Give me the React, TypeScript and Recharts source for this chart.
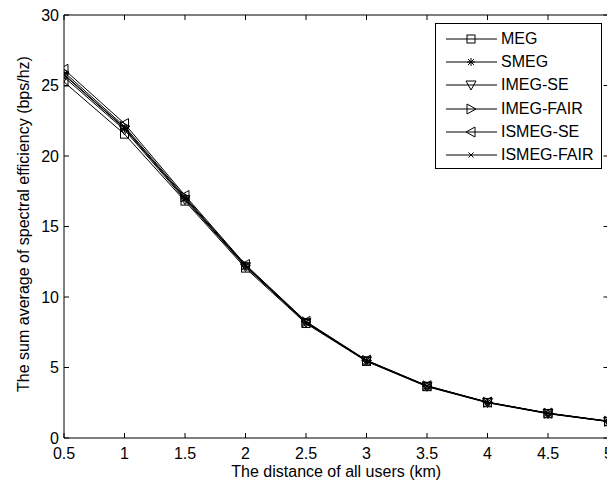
import React from 'react';
import { LineChart, Line, XAxis, YAxis, Legend } from 'recharts';

const distance = [0.5, 1, 1.5, 2, 2.5, 3, 3.5, 4, 4.5, 5];
const megValues = [25.25, 21.55, 16.8, 12.05, 8.12, 5.43, 3.64, 2.5, 1.72, 1.16];
const smegValues = [25.75, 21.95, 17.0, 12.2, 8.2, 5.48, 3.68, 2.53, 1.75, 1.18];
const imegSeValues = [25.6, 21.85, 16.9, 12.15, 8.18, 5.47, 3.67, 2.52, 1.74, 1.17];
const imegFairValues = [25.95, 22.1, 17.1, 12.25, 8.24, 5.5, 3.7, 2.54, 1.76, 1.19];
const ismegSeValues = [26.15, 22.3, 17.2, 12.3, 8.27, 5.52, 3.71, 2.55, 1.77, 1.2];
const ismegFairValues = [25.8, 22.0, 17.0, 12.2, 8.2, 5.48, 3.68, 2.53, 1.75, 1.18];

const xTicks = [0.5, 1, 1.5, 2, 2.5, 3, 3.5, 4, 4.5, 5];
const yTicks = [0, 5, 10, 15, 20, 25, 30];

const seriesNames = ['MEG', 'SMEG', 'IMEG-SE', 'IMEG-FAIR', 'ISMEG-SE', 'ISMEG-FAIR'];
const seriesKeys = ['meg', 'smeg', 'imegSe', 'imegFair', 'ismegSe', 'ismegFair'];
const seriesMarkers = ['square', 'star', 'tdown', 'tright', 'tleft', 'x'];
const seriesValues = [megValues, smegValues, imegSeValues, imegFairValues, ismegSeValues, ismegFairValues];

const data = distance.map((d, i) => {
  const row: Record<string, number> = { d };
  seriesKeys.forEach((k, j) => {
    row[k] = seriesValues[j][i];
  });
  return row;
});

const FONT = '"Liberation Sans", Arial, Helvetica, sans-serif';

function Marker({ kind, cx, cy }: { kind: string; cx: number; cy: number }) {
  const s = { fill: 'none', stroke: '#000', strokeWidth: 1 };
  switch (kind) {
    case 'square':
      return <rect x={cx - 4} y={cy - 4} width={8} height={8} {...s} />;
    case 'star':
      return (
        <g {...s}>
          <line x1={cx - 4} y1={cy} x2={cx + 4} y2={cy} />
          <line x1={cx} y1={cy - 4} x2={cx} y2={cy + 4} />
          <line x1={cx - 3} y1={cy - 3} x2={cx + 3} y2={cy + 3} />
          <line x1={cx - 3} y1={cy + 3} x2={cx + 3} y2={cy - 3} />
        </g>
      );
    case 'tdown':
      return <polygon points={`${cx - 5},${cy - 4} ${cx + 5},${cy - 4} ${cx},${cy + 5}`} {...s} />;
    case 'tright':
      return <polygon points={`${cx - 4},${cy - 5} ${cx - 4},${cy + 5} ${cx + 5},${cy}`} {...s} />;
    case 'tleft':
      return <polygon points={`${cx + 4},${cy - 5} ${cx + 4},${cy + 5} ${cx - 5},${cy}`} {...s} />;
    case 'x':
    default:
      return (
        <g {...s}>
          <line x1={cx - 2.5} y1={cy - 2.5} x2={cx + 2.5} y2={cy + 2.5} />
          <line x1={cx - 2.5} y1={cy + 2.5} x2={cx + 2.5} y2={cy - 2.5} />
        </g>
      );
  }
}

function makeDot(kind: string) {
  return (props: any) => {
    const { cx, cy, index } = props;
    if (cx == null || cy == null) return <g key={`e-${index}`} />;
    return (
      <g key={`${kind}-${index}`}>
        <Marker kind={kind} cx={cx} cy={cy} />
      </g>
    );
  };
}

function LegendBox() {
  return (
    <div
      style={{
        width: 167,
        height: 146,
        boxSizing: 'border-box',
        border: '1px solid #000',
        background: '#fff',
        paddingTop: 3,
        fontFamily: FONT,
        fontSize: 16,
        color: '#000',
      }}
    >
      {seriesNames.map((name, i) => (
        <div key={name} style={{ height: 23.3, display: 'flex', alignItems: 'center' }}>
          <svg width={64} height={20} style={{ display: 'block', marginLeft: 8 }}>
            <line x1={2} y1={10} x2={53} y2={10} stroke="#000" strokeWidth={1} />
            <Marker kind={seriesMarkers[i]} cx={27} cy={10} />
          </svg>
          <span style={{ marginLeft: -7, lineHeight: '20px', whiteSpace: 'nowrap' }}>{name}</span>
        </div>
      ))}
    </div>
  );
}

const emptyTick = () => <g />;

export default function App() {
  return (
    <div style={{ position: 'absolute', left: 0, top: 0, width: 607, height: 486, overflow: 'hidden', background: '#fff' }}>
      <LineChart
        width={620}
        height={486}
        data={data}
        margin={{ top: 14, right: 10.5, bottom: 0, left: 0 }}
        style={{ fontFamily: FONT }}
      >
        <XAxis
          xAxisId="x"
          dataKey="d"
          type="number"
          domain={[0.5, 5]}
          ticks={xTicks}
          allowDataOverflow
          height={48}
          stroke="#000"
          tickSize={-5}
          tickMargin={15}
          tick={{ fill: '#000', fontSize: 16, fontFamily: FONT }}
          interval={0}
          label={{ value: 'The distance of all users (km)', position: 'insideBottom', offset: 9, fill: '#000', fontSize: 16, fontFamily: FONT }}
        />
        <XAxis
          xAxisId="top"
          dataKey="d"
          type="number"
          orientation="top"
          domain={[0.5, 5]}
          ticks={xTicks}
          allowDataOverflow
          height={1}
          stroke="#000"
          tickSize={-5}
          tick={emptyTick}
          interval={0}
        />
        <YAxis
          yAxisId="y"
          type="number"
          domain={[0, 30]}
          ticks={yTicks}
          allowDataOverflow
          width={64}
          stroke="#000"
          tickSize={-5}
          tickMargin={10}
          tick={{ fill: '#000', fontSize: 16, fontFamily: FONT }}
          interval={0}
          label={{
            content: () => (
              <text
                x={28.5}
                y={224}
                transform="rotate(-90 28.5 224)"
                textAnchor="middle"
                fill="#000"
                fontSize={16}
                fontFamily={FONT}
              >
                The sum average of spectral efficiency (bps/hz)
              </text>
            ),
          }}
        />
        <YAxis
          yAxisId="right"
          type="number"
          orientation="right"
          domain={[0, 30]}
          ticks={yTicks}
          allowDataOverflow
          width={1}
          stroke="#000"
          tickSize={-5}
          tick={emptyTick}
          interval={0}
        />
        {seriesKeys.map((k, i) => (
          <Line
            key={k}
            xAxisId="x"
            yAxisId="y"
            type="linear"
            dataKey={k}
            name={seriesNames[i]}
            stroke="#000"
            strokeWidth={1}
            dot={makeDot(seriesMarkers[i])}
            activeDot={false}
            isAnimationActive={false}
          />
        ))}
        <Legend
          layout="vertical"
          align="center"
          verticalAlign="middle"
          content={() => <LegendBox />}
          wrapperStyle={{ position: 'absolute', left: 435, top: 23, width: 167, height: 146 }}
        />
      </LineChart>
    </div>
  );
}
